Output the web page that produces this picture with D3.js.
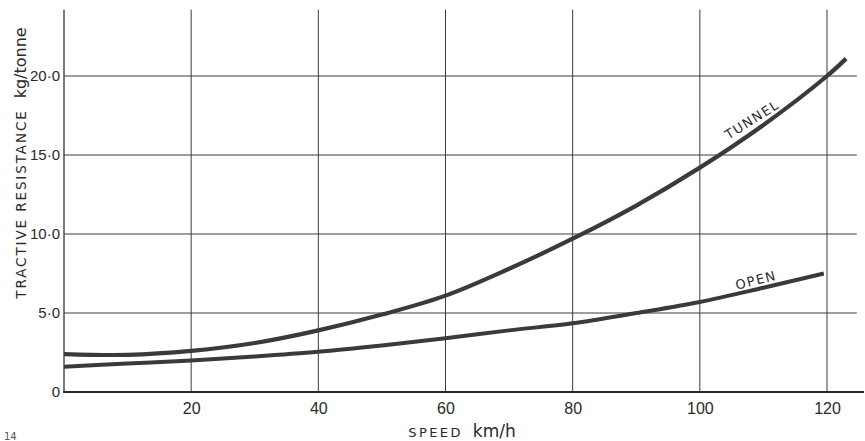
<!DOCTYPE html>
<html lang="en">
<head>
<meta charset="UTF-8">
<title>Tractive resistance</title>
<script src="https://d3js.org/d3.v7.min.js"></script>
<style>
  body { margin: 0; background: #fff; }
  svg { display: block; font-family: "DejaVu Sans", sans-serif; }
  .tick text { fill: #2a2a2a; font-stretch: condensed; }
</style>
</head>
<body>
<svg id="chart"></svg>
<script>
// values
let speed  = [0, 10, 20, 30, 40, 50, 60, 70, 80, 90, 100, 110, 120, 123]
let tunnel = [2.4, 2.35, 2.6, 3.1, 3.9, 4.9, 6.1, 7.8, 9.7, 11.8, 14.2, 16.9, 20.0, 21.1]
let openSpeed = [0, 10, 20, 30, 40, 50, 60, 70, 80, 90, 100, 110, 119.5]
let openLine  = [1.6, 1.8, 2.0, 2.25, 2.55, 2.95, 3.4, 3.9, 4.35, 5.0, 5.7, 6.6, 7.5]
let xTicks = [20, 40, 60, 80, 100, 120]
let yTicks = [0, 5, 10, 15, 20]
let yTickLabels = ["0", "5·0", "10·0", "15·0", "20·0"]

let width = 865
let height = 441

let svg = d3.select("#chart")
  .attr("width", width)
  .attr("height", height)

let xScale = d3.scaleLinear().domain([0, 120]).range([64, 827])
let yScale = d3.scaleLinear().domain([0, 20]).range([392, 76])

let gridRight = xScale(124.7)
let topY = yScale(24.2)

// grid
svg.append("g").selectAll("line")
  .data(yTicks.slice(1))
  .enter().append("line")
  .attr("x1", xScale(0)).attr("x2", gridRight)
  .attr("y1", d => yScale(d)).attr("y2", d => yScale(d))
  .attr("stroke", "#3c3c3c").attr("stroke-width", 1)

svg.append("g").selectAll("line")
  .data(xTicks)
  .enter().append("line")
  .attr("x1", d => xScale(d)).attr("x2", d => xScale(d))
  .attr("y1", topY).attr("y2", yScale(0))
  .attr("stroke", "#3c3c3c").attr("stroke-width", 1)

// axis lines
svg.append("line")
  .attr("x1", xScale(0)).attr("x2", xScale(0))
  .attr("y1", topY).attr("y2", yScale(0))
  .attr("stroke", "#333").attr("stroke-width", 1.3)

svg.append("line")
  .attr("x1", xScale(0) - 1).attr("x2", 864)
  .attr("y1", yScale(0)).attr("y2", yScale(0))
  .attr("stroke", "#2a2a2a").attr("stroke-width", 2)

// tick labels
let xAxis = d3.axisBottom(xScale).tickValues(xTicks).tickSize(0).tickPadding(11)
svg.append("g")
  .attr("transform", "translate(0," + yScale(0) + ")")
  .call(xAxis)
  .call(g => g.select(".domain").remove())
  .selectAll("text").style("font-size", "16px")

let yAxis = d3.axisLeft(yScale).tickValues(yTicks).tickSize(0).tickPadding(4)
  .tickFormat((d, i) => yTickLabels[i])
svg.append("g")
  .attr("transform", "translate(" + xScale(0) + ",0)")
  .call(yAxis)
  .call(g => g.select(".domain").remove())
  .selectAll("text").style("font-size", "15px")

// curves
let line = d3.line()
  .x(d => xScale(d[0]))
  .y(d => yScale(d[1]))
  .curve(d3.curveCatmullRom.alpha(0.5))

svg.append("path")
  .datum(speed.map((s, i) => [s, tunnel[i]]))
  .attr("d", line)
  .attr("fill", "none").attr("stroke", "#3a3a3a").attr("stroke-width", 4.2)

svg.append("path")
  .datum(openSpeed.map((s, i) => [s, openLine[i]]))
  .attr("d", line)
  .attr("fill", "none").attr("stroke", "#3a3a3a").attr("stroke-width", 4)

// curve labels
svg.append("text")
  .attr("transform", "translate(" + xScale(108.6) + "," + yScale(17.0) + ") rotate(-32)")
  .attr("text-anchor", "middle")
  .attr("fill", "#2a2a2a")
  .style("font-size", "13px").style("letter-spacing", "1.5px")
  .text("TUNNEL")

svg.append("text")
  .attr("transform", "translate(" + xScale(109) + "," + yScale(6.8) + ") rotate(-14)")
  .attr("text-anchor", "middle")
  .attr("fill", "#2a2a2a")
  .style("font-size", "13px").style("letter-spacing", "1.5px")
  .text("OPEN")

// axis titles
let yTitle = svg.append("text")
  .attr("transform", "translate(26,163) rotate(-90)")
  .attr("text-anchor", "middle")
  .attr("fill", "#2a2a2a")
yTitle.append("tspan").style("font-size", "13.5px").style("letter-spacing", "1.9px")
  .text("TRACTIVE  RESISTANCE")
yTitle.append("tspan").style("font-size", "16px").attr("dx", 11)
  .text("kg/tonne")

let xTitle = svg.append("text")
  .attr("x", 462).attr("y", 437)
  .attr("text-anchor", "middle")
  .attr("fill", "#2a2a2a")
xTitle.append("tspan").style("font-size", "13px").style("letter-spacing", "2.4px")
  .text("SPEED")
xTitle.append("tspan").style("font-size", "17px").attr("dx", 10)
  .text("km/h")

// figure number at the page edge
svg.append("text")
  .attr("x", 4).attr("y", 440)
  .attr("fill", "#555")
  .style("font-size", "10px")
  .text("14")
</script>
</body>
</html>
